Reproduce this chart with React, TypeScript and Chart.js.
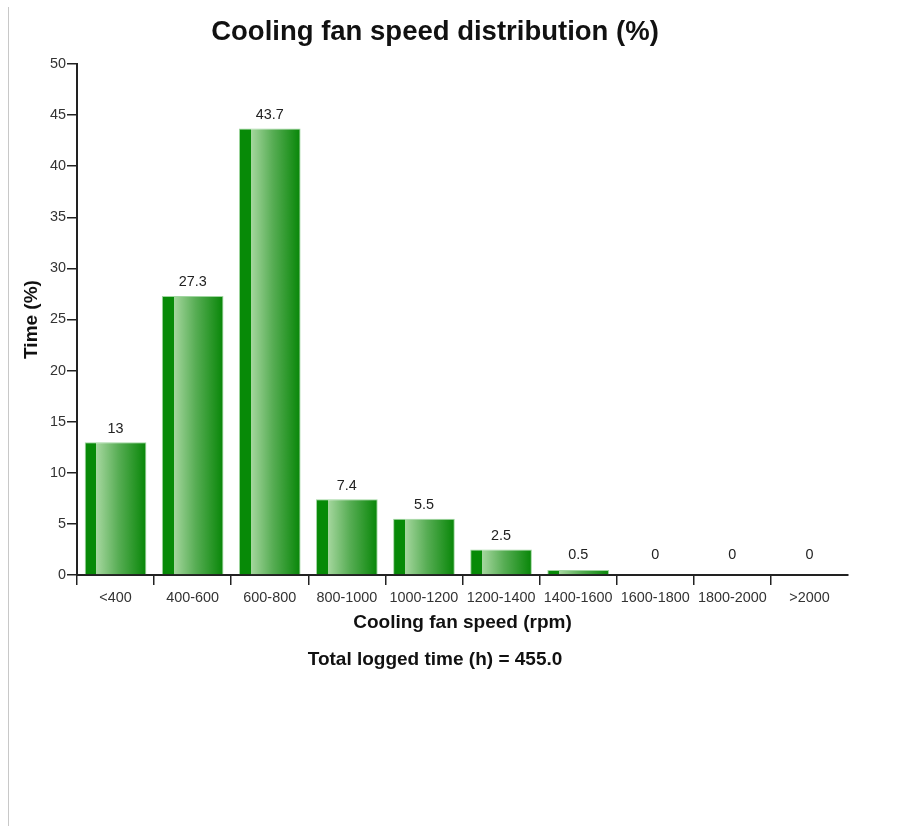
import React, { useEffect, useRef } from "react";
import { Chart, registerables } from "chart.js";

Chart.register(...registerables);

const categories = ["<400", "400-600", "600-800", "800-1000", "1000-1200", "1200-1400", "1400-1600", "1600-1800", "1800-2000", ">2000"];
const values = [13, 27.3, 43.7, 7.4, 5.5, 2.5, 0.5, 0, 0, 0];
const valueLabels = ["13", "27.3", "43.7", "7.4", "5.5", "2.5", "0.5", "0", "0", "0"];
const yTicks = [0, 5, 10, 15, 20, 25, 30, 35, 40, 45, 50];

const titleText = "Cooling fan speed distribution (%)";
const xTitle = "Cooling fan speed (rpm)";
const yTitle = "Time (%)";
const subtitleText = "Total logged time (h) = 455.0";

const FONT = "'Liberation Sans', Arial, Helvetica, sans-serif";
const BAR_FRACTION = 0.8;

const valueLabelPlugin = {
  id: "valueLabels",
  afterDatasetsDraw(chart: any) {
    const ctx = chart.ctx;
    const meta = chart.getDatasetMeta(0);
    ctx.save();
    ctx.font = `14.4px ${FONT}`;
    ctx.fillStyle = "#222";
    ctx.textAlign = "center";
    ctx.textBaseline = "middle";
    meta.data.forEach((bar: any, i: number) => {
      const top = Math.min(bar.y, bar.base - 6);
      ctx.fillText(valueLabels[i], bar.x, top - 13.5);
    });
    ctx.restore();
  },
};

export default function App() {
  const ref = useRef<HTMLCanvasElement>(null);

  useEffect(() => {
    if (!ref.current) return;
    const chart = new Chart(ref.current, {
      type: "bar",
      data: {
        labels: categories,
        datasets: [
          {
            data: values,
            barPercentage: BAR_FRACTION,
            categoryPercentage: 1,
            borderWidth: 1,
            borderColor: "rgba(150,210,150,0.9)",
            borderSkipped: "bottom",
            backgroundColor: (c: any) => {
              const ch = c.chart;
              const xs = ch.scales && ch.scales.x;
              if (!xs || c.dataIndex === undefined) return "#0a8a0a";
              const cx = xs.getPixelForValue(c.dataIndex);
              const w = (xs.width / categories.length) * BAR_FRACTION;
              if (!isFinite(cx) || !isFinite(w) || w <= 0) return "#0a8a0a";
              const g = ch.ctx.createLinearGradient(cx - w / 2, 0, cx + w / 2, 0);
              g.addColorStop(0, "#078a07");
              g.addColorStop(0.19, "#078a07");
              g.addColorStop(0.19, "#a6d79f");
              g.addColorStop(0.55, "#57ad54");
              g.addColorStop(1, "#078607");
              return g;
            },
          },
        ],
      },
      options: {
        responsive: false,
        animation: false,
        layout: { padding: { top: 0, left: 13, right: 41, bottom: 6.6 } },
        plugins: {
          legend: { display: false },
          tooltip: { enabled: false },
          title: {
            display: true,
            text: titleText,
            color: "#111",
            font: { family: FONT, size: 27.5, weight: "bold", lineHeight: 1.2 },
            padding: { top: 7.5, bottom: 15.5 },
          },
          subtitle: {
            display: true,
            position: "bottom",
            text: subtitleText,
            color: "#111",
            font: { family: FONT, size: 19, weight: "bold", lineHeight: 1.2 },
            padding: { top: 15.6, bottom: 10 },
          },
        },
        scales: {
          x: {
            grid: {
              drawOnChartArea: false,
              drawTicks: true,
              tickLength: 10,
              color: "#222",
              tickColor: (c: any) => (c.type === "tick" ? "#222" : "rgba(0,0,0,0)"),
              lineWidth: 1.5,
              offset: true,
            },
            border: { display: true, color: "#222", width: 2 },
            ticks: {
              color: "#333",
              font: { family: FONT, size: 14.4 },
              padding: 4,
              maxRotation: 0,
              autoSkip: false,
            },
            title: {
              display: true,
              text: xTitle,
              color: "#111",
              font: { family: FONT, size: 19, weight: "bold", lineHeight: 1.2 },
              padding: { top: 0, bottom: -1 },
            },
            afterFit: (s: any) => {
              s.height = 58;
            },
          },
          y: {
            min: 0,
            max: 50,
            afterBuildTicks: (s: any) => {
              s.ticks = yTicks.map((v) => ({ value: v }));
            },
            grid: {
              drawOnChartArea: false,
              drawTicks: true,
              tickLength: 10,
              color: "#222",
              lineWidth: 1.5,
            },
            border: { display: true, color: "#222", width: 2 },
            ticks: {
              color: "#333",
              font: { family: FONT, size: 14.4 },
              padding: 1,
            },
            title: {
              display: true,
              text: yTitle,
              color: "#111",
              font: { family: FONT, size: 19, weight: "bold", lineHeight: 1.0 },
              padding: { top: 0.5, bottom: 0 },
            },
            afterFit: (s: any) => {
              s.width = 55;
            },
          },
        },
      },
      plugins: [valueLabelPlugin],
    });
    return () => chart.destroy();
  }, []);

  return (
    <div>
      <div
        style={{
          position: "fixed",
          left: 8,
          top: 7,
          bottom: 0,
          width: 1,
          background: "#c8c8c8",
        }}
      />
      <canvas ref={ref} width={880} height={680} style={{ display: "block", marginLeft: 1 }} />
    </div>
  );
}
